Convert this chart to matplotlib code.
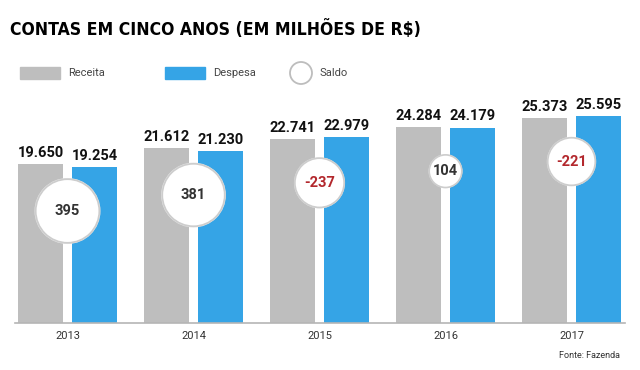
import matplotlib.pyplot as plt
from matplotlib.patches import Rectangle, Circle
import numpy as np

anos = ["2013", "2014", "2015", "2016", "2017"]
receita = [19650, 21612, 22741, 24284, 25373]
despesa = [19254, 21230, 22979, 24179, 25595]
saldo = [395, 381, -237, 104, -221]

cinza = "#bebebe"
azul = "#35a4e6"
vermelho = "#b3282d"

plt.rcParams["font.family"] = ["Roboto", "DejaVu Sans"]

fig = plt.figure(figsize=(6.4, 3.7), dpi=100)

# main chart area (pixel-aligned)
ax = fig.add_axes([15 / 640, 47 / 370, 610 / 640, 223 / 370])
x = np.arange(len(anos))
w = 0.357
off = 0.214

ax.bar(x - off, receita, width=w, color=cinza, zorder=2)
ax.bar(x + off, despesa, width=w, color=azul, zorder=2)

def fmt(v):
    return f"{v:,}".replace(",", ".")

for i in range(len(anos)):
    ax.annotate(fmt(receita[i]), (x[i] - off, receita[i]), xytext=(0, 3),
                textcoords="offset points", ha="center", va="bottom",
                fontsize=10.5, fontweight="bold", color="#111111")
    ax.annotate(fmt(despesa[i]), (x[i] + off, despesa[i]), xytext=(0, 3),
                textcoords="offset points", ha="center", va="bottom",
                fontsize=10.5, fontweight="bold", color="#111111")

# saldo circles, area proportional to value
cy = [min(r, d) - 5400 for r, d in zip(receita, despesa)]
sizes = [abs(s) * 5.3 for s in saldo]
ax.scatter(x, cy, s=[z * 1.08 for z in sizes], color="#e4e4e4", zorder=3,
           linewidths=0)
ax.scatter(x, cy, s=sizes, color="white", edgecolors="#cdcdcd",
           linewidths=1.2, zorder=4)
for i, s in enumerate(saldo):
    ax.text(x[i], cy[i], str(s), ha="center", va="center", fontsize=10.5,
            fontweight="bold", color=vermelho if s < 0 else "#333333",
            zorder=5)

ax.set_xlim((15 - 67.5) / 126, (625 - 67.5) / 126)
ax.set_ylim(0, 223 * 123.7)
for sp in ["top", "right", "left"]:
    ax.spines[sp].set_visible(False)
ax.spines["bottom"].set_color("#b5b5b5")
ax.spines["bottom"].set_linewidth(1.2)
ax.set_yticks([])
ax.set_xticks(x)
ax.set_xticklabels(anos, fontsize=8, color="#333333")
ax.tick_params(axis="x", length=0, pad=6)

# overlay in pixel coordinates for title, legend and source
ov = fig.add_axes([0, 0, 1, 1], zorder=-1)
ov.set_xlim(0, 640)
ov.set_ylim(370, 0)
ov.axis("off")

ov.text(10, 30, "CONTAS EM CINCO ANOS (EM MILHÕES DE R$)", fontsize=12.6,
        fontweight="bold", fontstretch="condensed", va="center", ha="left",
        color="black", family=["DejaVu Sans"])

ov.add_patch(Rectangle((20, 67), 40, 12, color=cinza))
ov.text(68, 73, "Receita", fontsize=8, va="center", color="#444444")
ov.add_patch(Rectangle((165, 67), 40, 12, color=azul))
ov.text(213, 73, "Despesa", fontsize=8, va="center", color="#444444")
ov.add_patch(Circle((301, 73), 11, facecolor="white", edgecolor="#bdbdbd",
                    linewidth=1.3))
ov.text(320, 73, "Saldo", fontsize=8, va="center", color="#444444")

ov.text(620, 356, "Fonte: Fazenda", fontsize=6.5, ha="right", va="center",
        color="#333333")

fig.savefig("out.png", dpi=100)
